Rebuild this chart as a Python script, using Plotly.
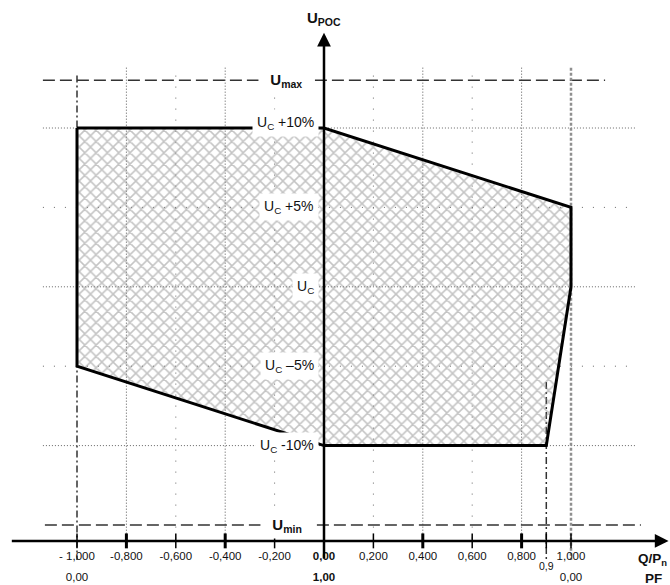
import plotly.graph_objects as go

# ---- data -------------------------------------------------------------
# reactive power ticks (Q/Pn) and their labels
q_ticks = [-1.0, -0.8, -0.6, -0.4, -0.2, 0.0, 0.2, 0.4, 0.6, 0.8, 1.0]
q_tick_text = ["- 1,000", "-0,800", "-0,600", "-0,400", "-0,200", "<b>0,00</b>",
               "0,200", "0,400", "0,600", "0,800", "1,000"]
q_major = [-0.8, -0.4, 0.4, 0.8]
q_minor = [-0.6, -0.2, 0.2, 0.6]

# power factor labels under the Q axis
pf_q = [-1.0, 0.0, 1.0]
pf_text = ["0,00", "<b>1,00</b>", "0,00"]
pf_limit_q = 0.9
pf_limit_text = "0,9"

# voltage levels at the point of connection (% of Uc)
level_names = ["U<sub>C</sub> +10%", "U<sub>C</sub> +5%", "U<sub>C</sub>",
               "U<sub>C</sub> –5%", "U<sub>C</sub> -10%"]
level_values = [10, 5, 0, -5, -10]
dense_levels = [10, 0, -10]
sparse_levels = [5, -5]
u_max = 13
u_min = -15

# required operating region (Q/Pn, % of Uc)
region_q = [-1.0, 0.0, 1.0, 1.0, 0.9, 0.0, -1.0, -1.0]
region_u = [10, 10, 5, 0, -10, -10, -5, 10]

# ---- scale ------------------------------------------------------------
W, H = 670, 585
PX_Q = 247.0        # pixels per unit Q/Pn
PX_U = 15.88        # pixels per percent
X0, Y0 = 324.0, 286.8
x_range = [-X0 / PX_Q, (W - X0) / PX_Q]
y_range = [-(H - Y0) / PX_U, Y0 / PX_U]

AXIS_U = -16.0
TICK = 0.47
FONT = "Liberation Sans, Arial, sans-serif"
INK = "#111111"

fig = go.Figure()
shapes = []


def seg(x0, y0, x1, y1, color, width, dash="solid", layer="below"):
    shapes.append(dict(type="line", xref="x", yref="y", x0=x0, y0=y0, x1=x1, y1=y1,
                       line=dict(color=color, width=width, dash=dash), layer=layer))


# grid: vertical
for q in q_major:
    seg(q, 13.8, q, AXIS_U, "#555", 1, "1px,2px")
for q in q_minor:
    seg(q, 13.3, q, AXIS_U, "#666", 1, "1px,10px")

# grid: horizontal
for u in dense_levels:
    seg(-1.138, u, 1.259, u, "#666", 1, "1px,2px")
for u in sparse_levels:
    seg(-1.138, u, 1.259, u, "#666", 1, "1px,10px")

# limit lines Umax / Umin
seg(-1.138, u_max, 1.138, u_max, "#333", 1.5, "12px,5px")
seg(-1.13, u_min, 1.283, u_min, "#333", 1.5, "12px,5px")

# Q/Pn = ±1 and PF = 0,9 markers
seg(-1.0, 13.3, -1.0, -17.2, "#333", 1.5, "7px,3px,2px,3px")
seg(1.0, 13.8, 1.0, -17.2, "#8f8f8f", 2.5, "3px,2px")
seg(pf_limit_q, -6.0, pf_limit_q, -17.2, "#333", 1.5, "7px,3px,2px,3px")

# operating region: hatched fill with heavy outline
fig.add_trace(go.Scatter(
    x=region_q, y=region_u, mode="lines", fill="toself",
    fillcolor="rgba(255,255,255,0)",
    fillpattern=dict(shape="x", fgcolor="#8a8a8a", bgcolor="rgba(255,255,255,0)",
                     size=8, solidity=0.35),
    line=dict(color="black", width=3), hoverinfo="skip"))

# axis ticks
tx, ty = [], []
for q in q_ticks + [pf_limit_q]:
    if q in q_major or q == 0.0:
        continue
    tx += [q, q, None]
    ty += [AXIS_U + TICK, AXIS_U - TICK, None]
fig.add_trace(go.Scatter(x=tx, y=ty, mode="lines", line=dict(color="black", width=1.5),
                         hoverinfo="skip"))
mx, my = [], []
for q in q_major:
    mx += [q, q, None]
    my += [AXIS_U + TICK, AXIS_U - TICK, None]
fig.add_trace(go.Scatter(x=mx, y=my, mode="lines", line=dict(color="black", width=3),
                         hoverinfo="skip"))

# tick labels
fig.add_trace(go.Scatter(x=q_ticks, y=[-17.02] * len(q_ticks), mode="text",
                         text=q_tick_text, textposition="middle center",
                         textfont=dict(family=FONT, size=11.5, color=INK), hoverinfo="skip"))
fig.add_trace(go.Scatter(x=pf_q, y=[-18.34] * len(pf_q), mode="text",
                         text=pf_text, textposition="middle center",
                         textfont=dict(family=FONT, size=11.5, color=INK), hoverinfo="skip"))
fig.add_trace(go.Scatter(x=[pf_limit_q], y=[-17.64], mode="text",
                         text=[pf_limit_text], textposition="middle center",
                         textfont=dict(family=FONT, size=10.5, color=INK), hoverinfo="skip"))

annotations = []

# axes with arrowheads
annotations.append(dict(x=1.395, y=AXIS_U, ax=-1.27, ay=AXIS_U, xref="x", yref="y",
                        axref="x", ayref="y", text="", showarrow=True, arrowhead=2,
                        arrowsize=1.1, arrowwidth=2.5, arrowcolor="black"))
annotations.append(dict(x=0.0, y=16.0, ax=0.0, ay=-17.2, xref="x", yref="y",
                        axref="x", ayref="y", text="", showarrow=True, arrowhead=2,
                        arrowsize=1.1, arrowwidth=2.5, arrowcolor="black"))

# voltage level labels
for name, u in zip(level_names, level_values):
    annotations.append(dict(x=-0.02, y=u, xref="x", yref="y", text=name,
                            showarrow=False, xanchor="right", yanchor="middle",
                            yshift=5 if u == 10 else 0,
                            bgcolor="white", borderpad=4,
                            font=dict(family=FONT, size=14, color=INK)))
for name, u in [("&nbsp;&nbsp;<b>U<sub>max</sub></b>&nbsp;&nbsp;", u_max),
                ("&nbsp;&nbsp;<b>U<sub>min</sub></b>&nbsp;&nbsp;", u_min)]:
    annotations.append(dict(x=-0.15, y=u, xref="x", yref="y", text=name,
                            showarrow=False, xanchor="center", yanchor="middle",
                            bgcolor="white", borderpad=3,
                            font=dict(family=FONT, size=15, color=INK)))

# axis titles
annotations.append(dict(x=0.0, y=16.92, xref="x", yref="y", text="<b>U<sub>POC</sub></b>",
                        showarrow=False, xanchor="center", yanchor="middle",
                        font=dict(family=FONT, size=15, color=INK)))
annotations.append(dict(x=1.262, y=-17.2, xref="x", yref="y", text="<b>Q/P<sub>n</sub></b>",
                        showarrow=False, xanchor="left", yanchor="middle",
                        font=dict(family=FONT, size=13.5, color=INK)))
annotations.append(dict(x=1.29, y=-18.34, xref="x", yref="y", text="<b>PF</b>",
                        showarrow=False, xanchor="left", yanchor="middle",
                        font=dict(family=FONT, size=13.5, color=INK)))

fig.update_layout(
    width=W, height=H, margin=dict(l=0, r=0, t=0, b=0),
    paper_bgcolor="white", plot_bgcolor="white", showlegend=False,
    xaxis=dict(range=x_range, visible=False, fixedrange=True),
    yaxis=dict(range=y_range, visible=False, fixedrange=True),
    shapes=shapes, annotations=annotations,
)

fig.write_html("out.html")
